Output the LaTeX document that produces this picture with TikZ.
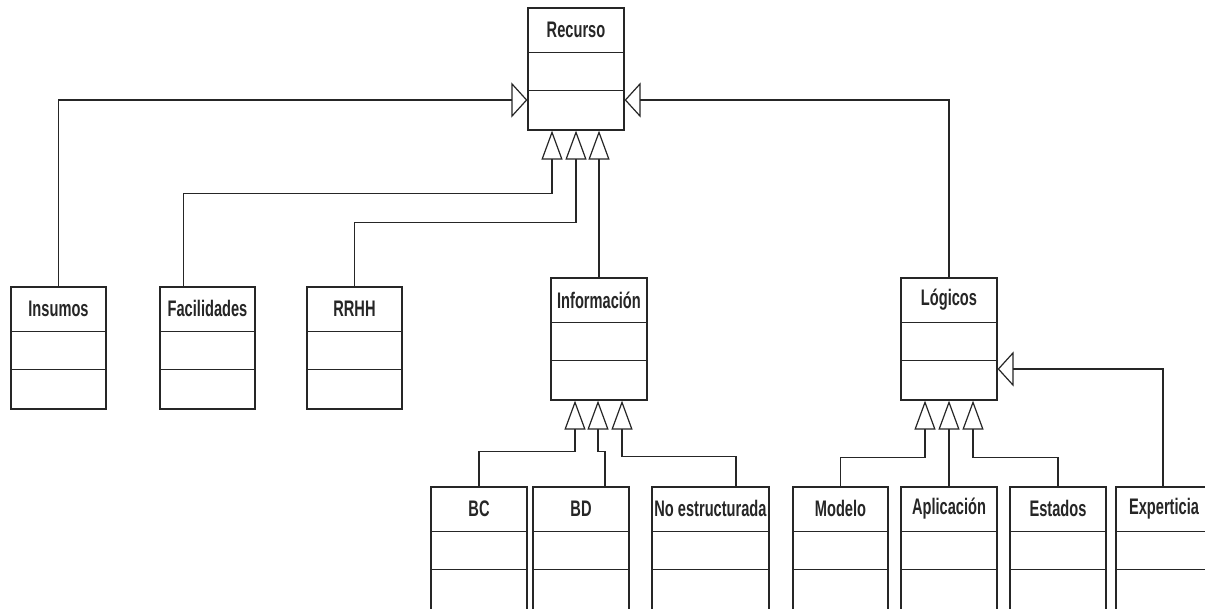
\documentclass[tikz,border=0pt]{standalone}
\usepackage{fontspec}
\usepackage{graphicx}
\setmainfont{Liberation Sans}
\usetikzlibrary{arrows.meta}
\tikzset{
  cls/.style={draw=black!85, line width=1.2pt, minimum height=122pt, inner sep=0pt, fill=white},
  lbl/.style={inner sep=0pt, font=\bfseries\fontsize{22.5}{24}\selectfont, text=black!85},
  ln/.style={draw=black!85, line width=1.2pt},
  genU/.style={ln, -{Triangle[open, length=29pt, width=21pt, line width=1.2pt]}},
  genS/.style={ln, -{Triangle[open, length=16pt, width=35pt, line width=1.2pt]}},
}
\newcommand{\umlcls}[5]{%
  \node[cls, minimum width=#3, minimum height=#5] (#1) at #2 {};
  \draw[ln] ([yshift=-45pt]#1.north west) -- ([yshift=-45pt]#1.north east);
  \draw[ln] ([yshift=-83pt]#1.north west) -- ([yshift=-83pt]#1.north east);
  \node[lbl] (#1-t) at ([yshift=-22.5pt]#1.north) {\scalebox{0.65}[1]{#4}};
}
\begin{document}
\begin{tikzpicture}[x=1pt,y=-1pt]
\useasboundingbox (0,0) rectangle (1205,608);
\clip (0,0) rectangle (1205,608);
\fill[white] (0,0) rectangle (1205,608);
% classes
\umlcls{rec}{(576,69)}{96pt}{Recurso}{122pt}
\umlcls{ins}{(58.5,348)}{95pt}{Insumos}{122pt}
\umlcls{fac}{(207.5,348)}{95pt}{Facilidades}{122pt}
\umlcls{rrhh}{(354.5,348)}{95pt}{RRHH}{122pt}
\umlcls{info}{(599,339)}{96pt}{Información}{122pt}
\umlcls{log}{(949,339)}{96pt}{Lógicos}{122pt}
\umlcls{bc}{(479,557)}{96pt}{BC}{140pt}
\umlcls{bd}{(581,557)}{96pt}{BD}{140pt}
\umlcls{noe}{(710.5,557)}{117pt}{No estructurada}{140pt}
\umlcls{mod}{(840.5,557)}{95pt}{Modelo}{140pt}
\umlcls{apl}{(949,557)}{96pt}{Aplicación}{140pt}
\umlcls{est}{(1058,557)}{96pt}{Estados}{140pt}
\umlcls{exp}{(1164,557)}{96pt}{Experticia}{140pt}
% generalizations to Recurso
\draw[genS] (ins.north) |- ([yshift=-31pt]rec.west);
\draw[genS] (log.north) |- ([yshift=-31pt]rec.east);
\draw[genU] ([xshift=-24pt]fac.north) -- ++(0,-93) -| ([xshift=-24pt]rec.south);
\draw[genU] (rrhh.north) -- ++(0,-64) -| (rec.south);
\draw[genU] (info.north) -- ([xshift=23pt]rec.south);
% generalizations to Informacion
\draw[genU] (bc.north) -- ++(0,-35) -| ([xshift=-24pt]info.south);
\draw[genU] ([xshift=24pt]bd.north) -- ++(0,-35) -| ([xshift=-1pt]info.south);
\draw[genU] ([xshift=25.5pt]noe.north) -- ++(0,-30) -| ([xshift=23pt]info.south);
% generalizations to Logicos
\draw[genU] (mod.north) -- ++(0,-29) -| ([xshift=-24pt]log.south);
\draw[genU] (apl.north) -- (log.south);
\draw[genU] (est.north) -- ++(0,-29) -| ([xshift=24pt]log.south);
\draw[genS] ([xshift=-1pt]exp.north) |- ([yshift=-30pt]log.east);
\end{tikzpicture}
\end{document}
